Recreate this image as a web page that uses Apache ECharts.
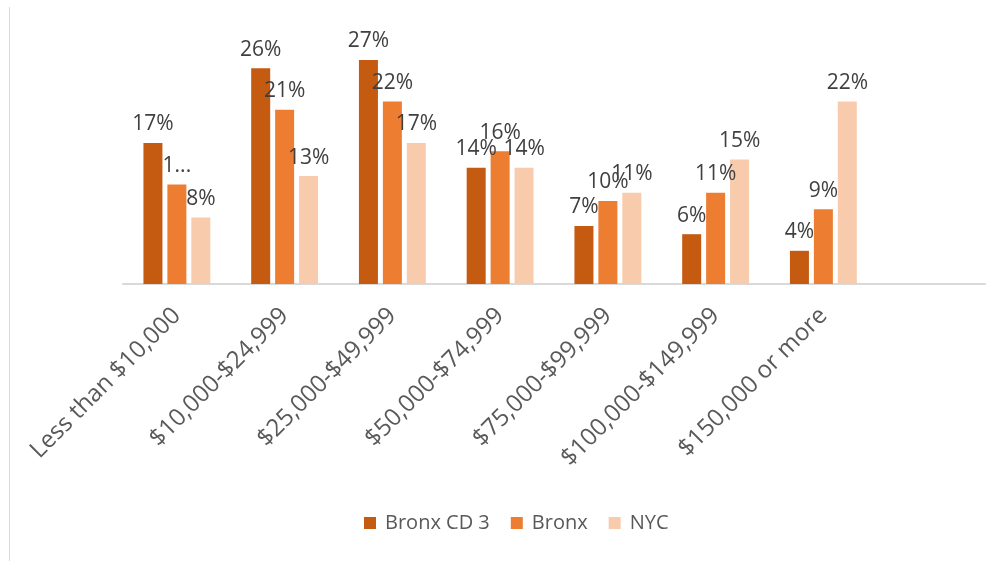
<!DOCTYPE html>
<html>
<head>
<meta charset="utf-8">
<script src="https://cdn.jsdelivr.net/npm/echarts@6/dist/echarts.min.js"></script>
<style>
  html, body { margin: 0; padding: 0; background: #fff; }
  #chart { width: 1002px; height: 561px; }
</style>
</head>
<body>
<div id="chart"></div>
<script>
// income brackets (last slot is empty, as in the original chart)
var categories = ['Less than $10,000', '$10,000-$24,999', '$25,000-$49,999', '$50,000-$74,999',
  '$75,000-$99,999', '$100,000-$149,999', '$150,000 or more', ''];
var bronxCd3 = [17, 26, 27, 14, 7, 6, 4];
var bronx = [12, 21, 22, 16, 10, 11, 9];
var nyc = [8, 13, 17, 14, 11, 15, 22];
// labels Excel cut short because they collided
var bronxLabelOverride = { 0: '1...' };

var font = '"Open Sans", "DejaVu Sans", sans-serif';

function makeSeries(name, data, color, overrides) {
  return {
    name: name,
    type: 'bar',
    data: data,
    barWidth: 19,
    barGap: '26%',
    itemStyle: { color: color },
    label: {
      show: true,
      position: 'top',
      distance: 8,
      fontFamily: font,
      fontSize: 21,
      color: '#404040',
      formatter: function (p) {
        if (overrides && overrides[p.dataIndex] !== undefined) return overrides[p.dataIndex];
        return p.value + '%';
      }
    }
  };
}

var chart = echarts.init(document.getElementById('chart'));
chart.setOption({
  animation: false,
  grid: { left: 123, right: 17, top: 35, bottom: 277 },
  legend: {
    bottom: 23,
    left: 359,
    itemWidth: 12,
    itemHeight: 12,
    itemGap: 21,
    icon: 'rect',
    textStyle: { fontFamily: font, fontSize: 20, color: '#595959', padding: [0, 0, 0, 4] },
    data: ['Bronx CD 3', 'Bronx', 'NYC']
  },
  xAxis: {
    type: 'category',
    data: categories,
    axisLine: { lineStyle: { color: '#d9d9d9', width: 2 } },
    axisTick: { show: false },
    axisLabel: {
      interval: 0,
      rotate: 45,
      margin: 28,
      fontFamily: font,
      fontSize: 24,
      color: '#595959'
    }
  },
  yAxis: {
    type: 'value',
    min: 0,
    max: 30,
    show: false
  },
  graphic: [{
    type: 'line',
    shape: { x1: 9.5, y1: 7, x2: 9.5, y2: 561 },
    style: { stroke: '#d9d9d9', lineWidth: 1 }
  }],
  series: [
    makeSeries('Bronx CD 3', bronxCd3, '#C55A11'),
    makeSeries('Bronx', bronx, '#ED7D31', bronxLabelOverride),
    makeSeries('NYC', nyc, '#F8CBAD')
  ]
});
</script>
</body>
</html>
